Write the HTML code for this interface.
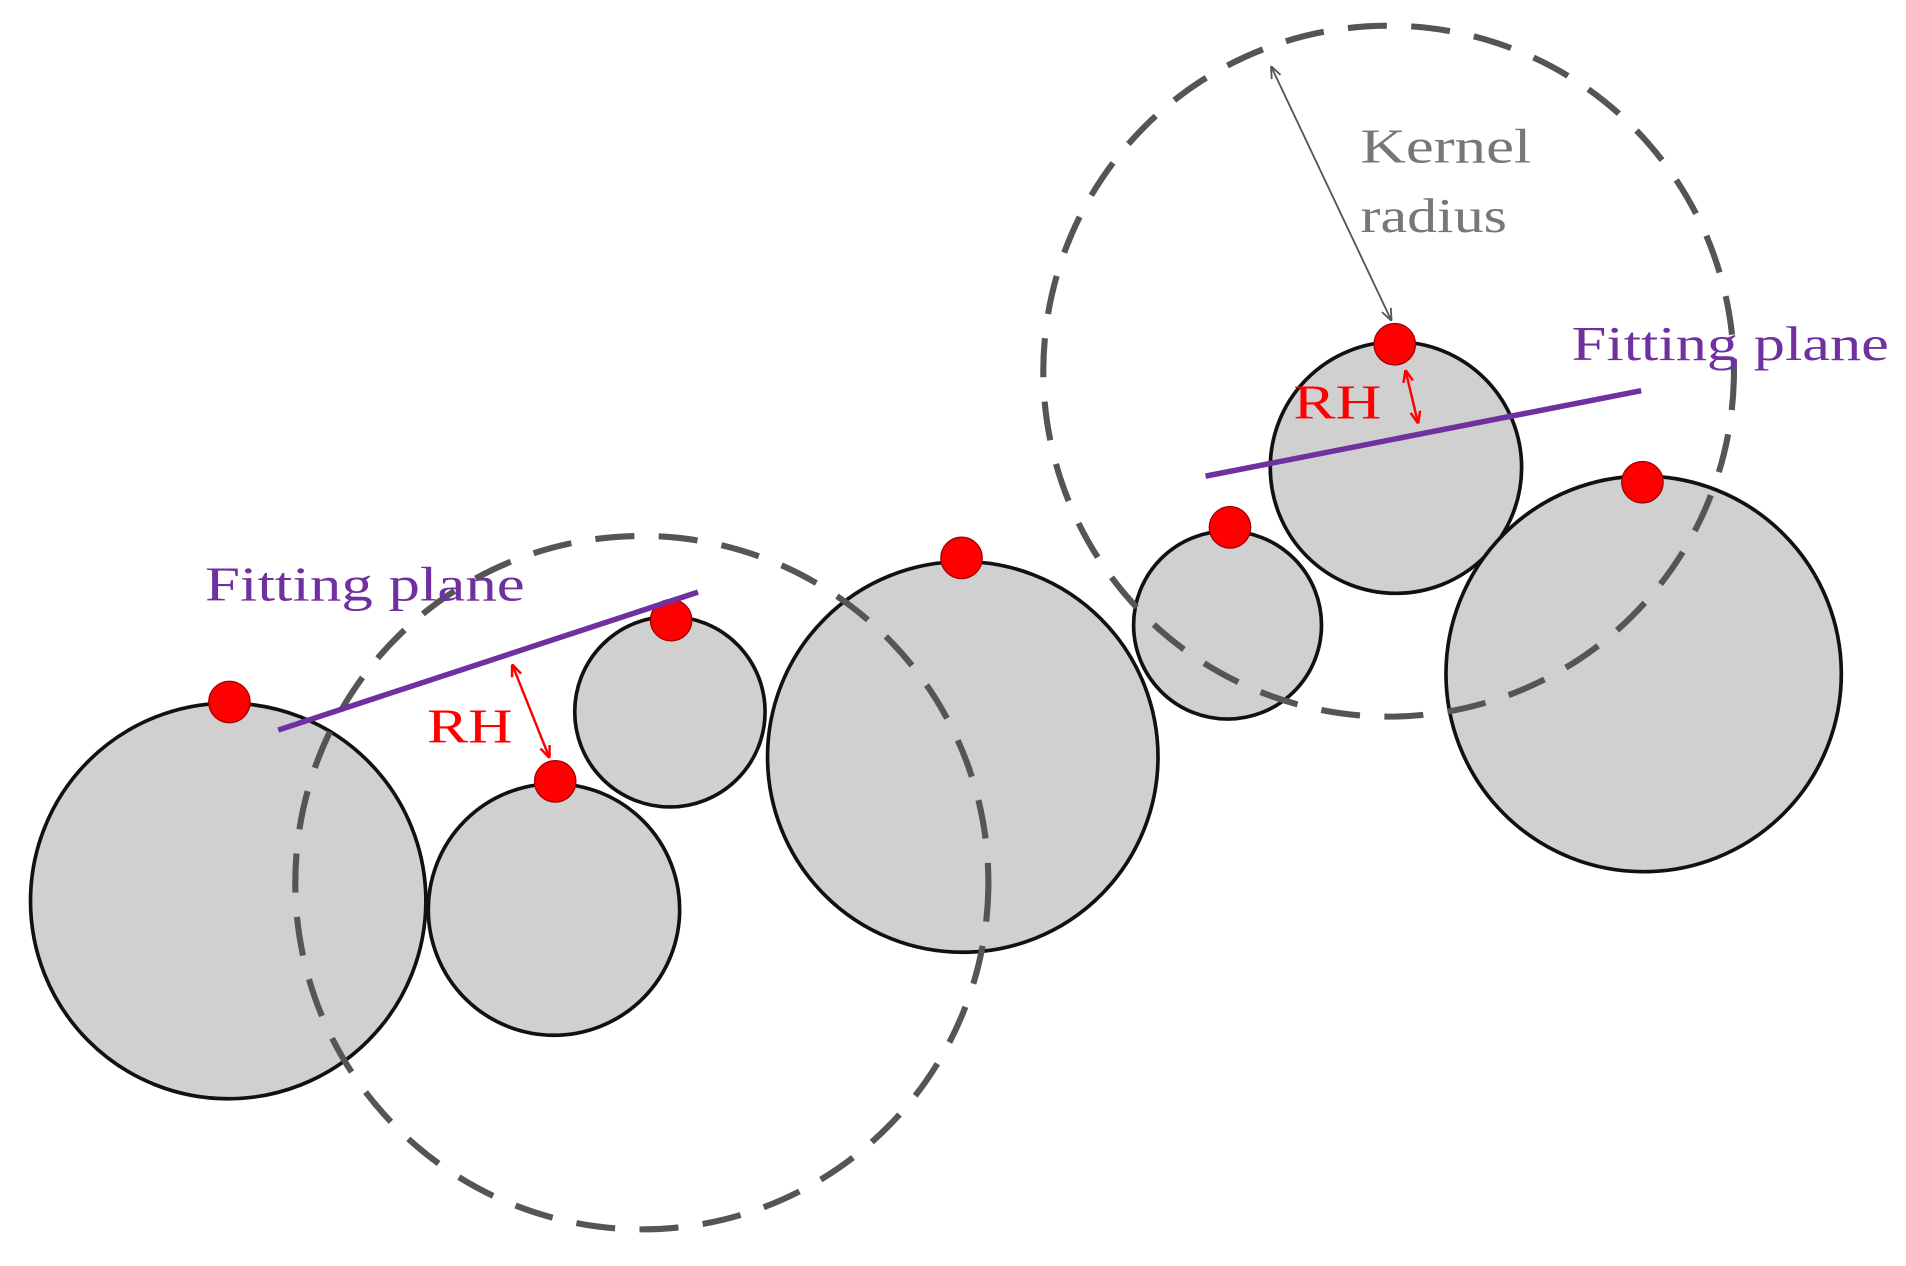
<!DOCTYPE html>
<html><head><meta charset="utf-8"><style>html,body{margin:0;padding:0;background:#fff}svg{display:block}</style></head>
<body>
<svg width="1906" height="1266" viewBox="0 0 1562 1037" preserveAspectRatio="none" xmlns="http://www.w3.org/2000/svg">
<defs>
<marker id="ag" markerWidth="10" markerHeight="10" refX="9" refY="5" orient="auto-start-reverse" markerUnits="userSpaceOnUse"><path d="M0,1 L10,5 L0,9" fill="none" stroke="#555" stroke-width="1.5"/></marker>
<marker id="ar" markerWidth="10" markerHeight="10" refX="9" refY="5" orient="auto-start-reverse" markerUnits="userSpaceOnUse"><path d="M0,1 L10,5 L0,9" fill="none" stroke="#f00" stroke-width="2"/></marker>
</defs>
<g fill="#d0d0d0" stroke="#111" stroke-width="3">
<circle cx="187" cy="738" r="162"/>
<circle cx="454" cy="745" r="103"/>
<circle cx="549" cy="583" r="78"/>
<circle cx="789" cy="620" r="160"/>
<circle cx="1006" cy="512" r="77"/>
<circle cx="1144" cy="383" r="103"/>
<circle cx="1347" cy="552" r="162"/>
</g>
<g fill="none" stroke="#555" stroke-width="5" stroke-dasharray="32 20">
<circle cx="526" cy="723" r="284"/>
<circle cx="1138" cy="304" r="283"/>
</g>
<g fill="#f00" stroke="#900" stroke-width="1">
<circle cx="188" cy="575" r="17"/>
<circle cx="455" cy="640" r="17"/>
<circle cx="550" cy="508" r="17"/>
<circle cx="788" cy="457" r="17"/>
<circle cx="1008" cy="432" r="17"/>
<circle cx="1143" cy="282" r="17"/>
<circle cx="1346" cy="395" r="17"/>
</g>
<g stroke="#7030a0" stroke-width="4.5">
<line x1="228" y1="598" x2="572" y2="485"/>
<line x1="988" y1="390" x2="1345" y2="320"/>
</g>
<line x1="1042" y1="55" x2="1140" y2="262" stroke="#555" stroke-width="1.5" marker-start="url(#ag)" marker-end="url(#ag)"/>
<line x1="420" y1="545" x2="450" y2="620" stroke="#f00" stroke-width="2" marker-start="url(#ar)" marker-end="url(#ar)"/>
<line x1="1152" y1="304" x2="1162" y2="346" stroke="#f00" stroke-width="2" marker-start="url(#ar)" marker-end="url(#ar)"/>
<g font-family="Liberation Serif, serif" font-size="40">
<text x="168" y="492" fill="#7030a0" textLength="262" lengthAdjust="spacingAndGlyphs">Fitting plane</text>
<text x="1288" y="295" fill="#7030a0" textLength="260" lengthAdjust="spacingAndGlyphs">Fitting plane</text>
<text x="350" y="608" fill="#f00" textLength="70" lengthAdjust="spacingAndGlyphs">RH</text>
<text x="1060" y="343" fill="#f00" textLength="72" lengthAdjust="spacingAndGlyphs">RH</text>
<text x="1115" y="133" fill="#777" textLength="140" lengthAdjust="spacingAndGlyphs">Kernel</text>
<text x="1115" y="190" fill="#777" textLength="120" lengthAdjust="spacingAndGlyphs">radius</text>
</g>
</svg>
</body></html>
